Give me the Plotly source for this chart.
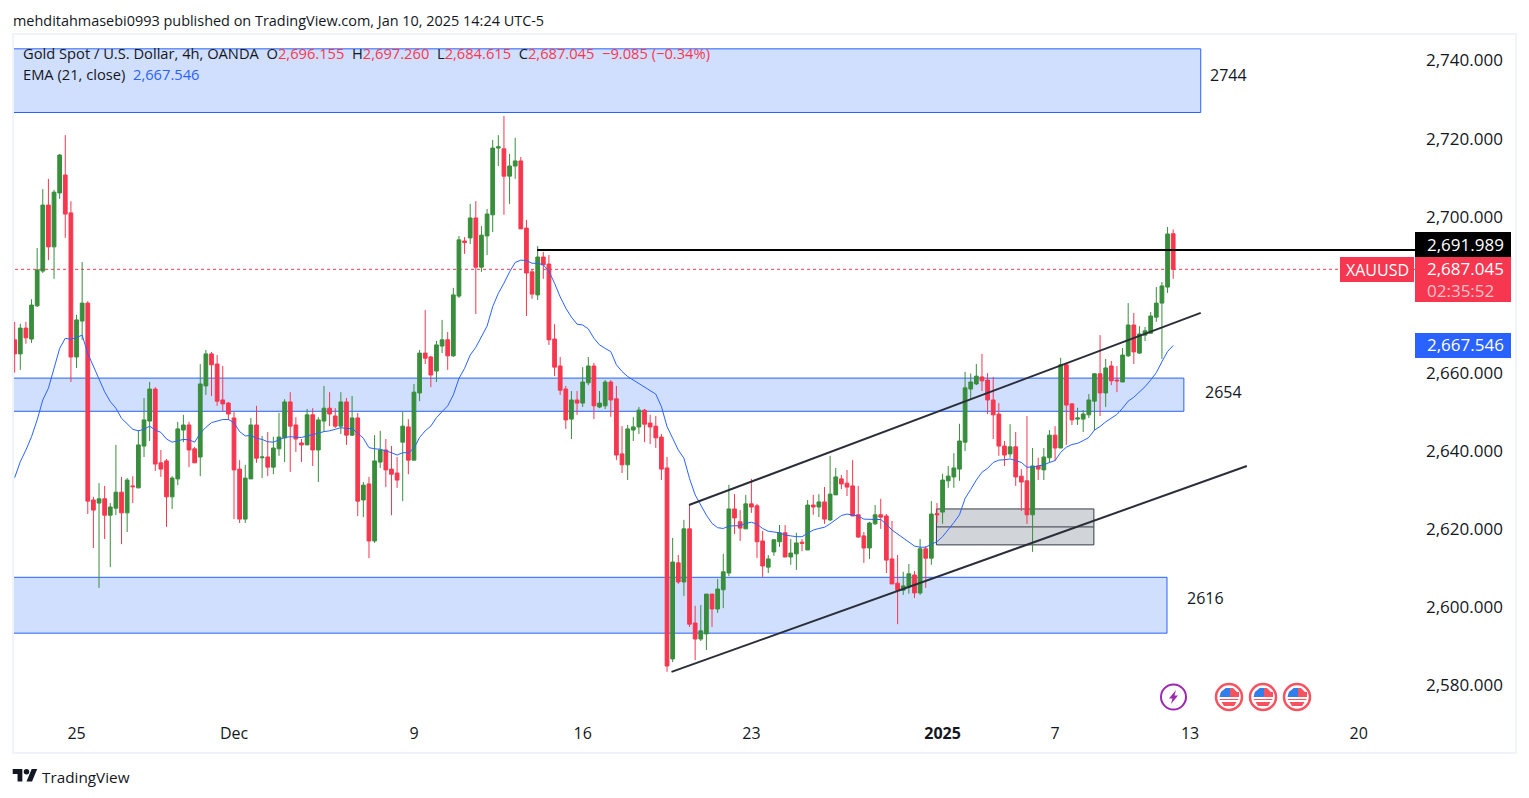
import plotly.graph_objects as go

W, H = 1529, 798
FONT = "Open Sans"
RED, GREEN, BLUE, INK = "#f7374f", "#388e3c", "#2962ff", "#131722"

opens = [2669.0,2665.4,2672.0,2669.2,2677.7,2686.6,2703.5,2692.8,2706.6,2711.2,2701.5,2664.6,2673.8,2678.4,2628.0,2627.2,2628.3,2624.1,2625.9,2630.0,2624.7,2631.6,2631.1,2641.8,2648.2,2656.4,2637.5,2638.0,2628.8,2633.4,2645.9,2647.2,2641.1,2639.0,2657.2,2665.4,2662.8,2653.6,2652.8,2649.0,2635.9,2623.1,2633.4,2647.2,
 2638.8,2639.0,2636.4,2641.1,2643.9,2653.1,2647.2,2642.6,2642.1,2649.8,2640.8,2648.2,2651.5,2649.5,2646.9,2653.1,2644.6,2649.0,2628.0,2632.1,2617.5,2637.7,2640.8,2635.9,2634.9,2642.8,2646.7,2638.2,2655.4,2665.6,2664.6,2661.0,2667.4,2669.0,2664.9,2680.2,2694.3,2695.1,2700.2,2687.6,2695.6,2701.0,2718.1,2717.9,2710.9,2713.5,2714.8,2697.6,2686.4,2680.5,2690.2,
 2688.4,2669.2,2662.3,2656.4,2648.7,2653.6,2652.8,2658.0,2662.3,2651.8,2652.1,2658.2,2653.9,2639.8,2637.0,2645.9,2646.7,2651.0,2647.7,2646.9,2644.1,2636.2,2587.3,2611.9,2607.0,2620.6,2596.5,2592.4,2593.7,2603.9,2600.1,2605.0,
 2609.3,2625.7,2622.4,2620.6,2627.0,2626.5,2617.5,2610.8,2614.7,2617.3,2619.6,2613.4,2614.2,2617.2,2615.2,2626.7,2626.2,2627.5,2622.9,2629.3,2633.4,2632.3,2631.6,2624.2,2618.8,2615.7,2621.9,2624.2,2623.9,2612.9,2606.7,2604.9,2605.7,2608.8,2604.2,2615.5,2613.1,2624.5,2624.9,2632.9,2633.9,2635.9,
 2642.8,2656.4,2657.7,2659.5,2658.7,2653.6,2650.0,2641.8,2639.8,2641.6,2634.1,2632.9,2624.2,2636.7,2635.7,2638.8,2644.6,2641.3,2662.6,2652.6,2648.7,2648.7,2649.8,2653.3,2660.3,2655.4,2662.3,2658.7,2658.2,2664.9,2672.8,2665.6,2670.2,2670.7,2674.8,2678.4,2682.5,2696.155]
highs = [2673.6,2673.1,2673.6,2679.4,2692.5,2707.6,2710.2,2707.4,2716.6,2721.4,2704.5,2675.4,2688.9,2678.9,2628.8,2632.3,2631.6,2627.2,2642.1,2633.9,2633.6,2634.1,2645.9,2654.1,2658.2,2656.9,2640.8,2638.5,2634.1,2648.0,2649.8,2648.0,2641.6,2662.8,2666.4,2665.9,2665.1,2662.3,2653.1,2650.5,2638.2,2637.0,2649.0,2652.1,
 2644.4,2645.4,2644.2,2650.3,2653.8,2655.6,2649.2,2643.6,2651.3,2651.5,2649.2,2657.2,2655.6,2651.5,2655.6,2654.1,2654.6,2650.3,2632.6,2633.9,2644.6,2645.7,2643.6,2641.8,2639.0,2650.6,2648.7,2657.7,2666.4,2676.6,2664.9,2668.7,2674.1,2671.0,2682.3,2695.6,2695.3,2703.8,2704.5,2698.1,2702.5,2720.2,2721.4,2726.3,2716.6,2720.7,2715.8,2699.7,2687.1,2693.0,2691.5,
 2690.7,2673.0,2664.6,2657.2,2655.9,2655.9,2662.0,2664.6,2663.1,2655.9,2658.7,2658.7,2657.2,2646.9,2647.2,2649.2,2651.8,2651.3,2649.8,2649.5,2644.9,2639.0,2618.3,2613.9,2622.9,2626.7,2600.9,2601.1,2603.9,2603.9,2607.8,2614.2,
 2631.9,2629.5,2625.4,2629.3,2633.4,2627.0,2620.1,2613.9,2618.0,2621.6,2621.6,2618.0,2619.6,2618.0,2628.0,2629.3,2629.5,2631.3,2639.3,2636.2,2634.4,2635.7,2638.2,2631.6,2619.8,2622.4,2626.7,2628.3,2624.4,2622.6,2613.9,2609.6,2611.6,2609.8,2618.0,2616.2,2627.7,2627.2,2634.7,2636.7,2640.0,2647.5,
 2660.8,2660.4,2662.8,2665.4,2660.5,2659.5,2652.8,2643.1,2647.4,2645.4,2635.9,2649.5,2641.3,2638.8,2641.3,2645.9,2646.9,2664.4,2663.1,2652.8,2651.6,2651.0,2655.1,2660.5,2670.2,2664.1,2663.6,2662.3,2666.9,2678.4,2675.9,2672.5,2672.3,2676.1,2682.5,2683.8,2697.9,2697.26]
lows = [2660.6,2661.3,2668.0,2668.2,2677.4,2686.1,2689.4,2684.6,2705.1,2695.1,2658.2,2661.8,2669.0,2624.4,2615.7,2605.5,2618.0,2610.8,2624.1,2616.7,2619.8,2627.2,2631.0,2639.0,2643.1,2635.4,2633.9,2621.1,2625.7,2631.8,2642.8,2636.4,2637.5,2634.1,2654.9,2654.6,2652.1,2650.8,2648.5,2623.1,2622.1,2622.1,2633.4,2637.5,
 2633.6,2634.1,2634.6,2639.3,2637.7,2635.2,2640.3,2637.7,2642.1,2636.7,2632.6,2645.4,2646.9,2646.4,2644.9,2642.1,2644.4,2623.9,2623.6,2613.1,2617.0,2636.2,2631.3,2624.1,2631.1,2627.7,2634.6,2638.2,2653.3,2662.8,2656.9,2658.2,2665.6,2661.3,2664.6,2679.7,2691.0,2693.5,2675.6,2686.4,2690.7,2696.6,2713.5,2701.0,2703.8,2710.2,2697.4,2675.1,2679.5,2679.2,2684.6,
 2667.7,2659.7,2654.9,2646.2,2643.6,2649.8,2651.8,2657.4,2648.7,2651.5,2651.3,2649.3,2638.2,2634.9,2633.1,2643.1,2644.9,2642.8,2642.3,2641.3,2633.1,2584.0,2586.5,2606.5,2603.4,2595.5,2587.0,2591.9,2589.6,2595.5,2599.1,2600.3,
 2608.5,2619.3,2617.5,2620.6,2624.7,2613.1,2608.3,2609.3,2613.7,2616.0,2613.4,2611.4,2610.1,2614.9,2615.2,2624.2,2623.6,2621.9,2622.6,2629.3,2630.8,2629.0,2623.9,2618.3,2611.9,2612.9,2621.6,2620.6,2609.3,2606.5,2596.2,2603.7,2604.0,2602.9,2603.7,2605.5,2611.4,2622.1,2621.9,2631.1,2631.1,2632.9,
 2640.5,2653.9,2657.4,2655.9,2650.0,2643.6,2639.3,2636.7,2638.8,2631.6,2625.2,2621.9,2614.7,2633.1,2633.1,2637.5,2638.0,2641.3,2642.1,2647.2,2647.2,2645.4,2649.0,2645.9,2649.5,2651.8,2657.4,2655.6,2658.2,2664.6,2662.8,2665.4,2668.7,2670.5,2673.6,2664.1,2681.0,2684.615]
closes = [2665.4,2672.0,2669.5,2677.9,2686.9,2703.5,2692.8,2706.8,2716.3,2701.2,2664.6,2674.1,2678.4,2627.7,2625.4,2628.3,2624.1,2626.2,2630.0,2624.7,2633.1,2631.4,2642.1,2648.5,2656.4,2637.2,2635.9,2628.8,2633.6,2646.2,2647.2,2640.8,2637.5,2657.7,2665.4,2662.6,2653.3,2652.6,2650.0,2635.7,2623.1,2633.6,2647.2,2638.7,
 2639.0,2636.4,2641.3,2644.1,2653.1,2646.9,2643.6,2642.1,2649.8,2640.8,2648.5,2651.5,2650.0,2646.9,2653.1,2644.6,2649.0,2627.7,2631.8,2617.5,2638.0,2640.8,2635.7,2634.6,2633.1,2646.9,2638.2,2655.6,2665.6,2664.3,2660.0,2667.7,2669.0,2664.9,2680.5,2694.6,2693.9,2700.2,2687.6,2695.8,2701.2,2718.1,2718.4,2710.9,2713.5,2714.8,2697.4,2686.1,2680.7,2690.2,2688.2,
 2669.0,2662.0,2656.1,2648.5,2653.6,2652.8,2658.2,2662.3,2652.1,2652.8,2658.2,2653.6,2639.5,2637.0,2646.2,2646.7,2651.0,2647.4,2646.7,2643.9,2635.9,2585.5,2612.1,2607.0,2620.6,2596.2,2592.4,2594.5,2603.9,2600.1,2605.2,2609.6,
 2625.7,2623.4,2620.8,2627.0,2626.2,2617.3,2611.1,2612.9,2617.8,2619.6,2613.4,2614.4,2617.0,2616.9,2626.7,2626.2,2627.5,2623.1,2629.5,2633.9,2632.1,2631.3,2623.9,2618.5,2615.7,2622.1,2624.2,2623.6,2612.6,2606.5,2604.9,2606.0,2609.1,2604.2,2615.5,2613.1,2624.4,2624.2,2633.1,2634.1,2636.2,2643.1,
 2656.7,2658.2,2659.7,2658.5,2653.6,2649.8,2641.8,2639.5,2641.6,2633.9,2632.6,2624.2,2636.7,2635.9,2639.0,2644.6,2641.3,2662.6,2652.3,2648.5,2649.0,2650.0,2653.6,2660.3,2655.4,2661.8,2658.5,2658.5,2665.1,2672.8,2665.9,2670.5,2671.3,2675.1,2678.4,2682.8,2696.1,2687.045]
ema21 = [2633.7,2637.8,2640.8,2644.2,2648.5,2653.6,2656.6,2661.7,2666.8,2669.4,2669.1,2669.6,2670.2,2665.5,2662.1,2658.7,2655.7,2653.2,2651.5,2648.9,2647.6,2646.1,2645.7,2646.1,2646.9,2645.9,2645.3,2643.6,2642.8,2643.2,2643.5,2643.4,2642.8,2645.1,2646.6,2647.8,2648.3,2648.6,2648.6,2647.8,2645.5,2644.4,2644.5,2643.8,
 2643.5,2642.9,2642.8,2643.4,2644.0,2644.2,2644.1,2644.0,2644.4,2644.7,2645.1,2645.5,2645.7,2646.1,2646.5,2646.3,2646.3,2645.1,2643.8,2641.4,2641.1,2641.0,2640.6,2640.1,2639.5,2640.1,2640.1,2641.2,2644.0,2645.7,2646.9,2649.1,2650.6,2652.1,2654.9,2659.1,2661.7,2665.1,2667.1,2669.8,2672.5,2677.5,2680.9,2683.5,2686.4,
 2688.8,2689.4,2689.3,2688.6,2688.6,2688.2,2686.5,2683.5,2680.0,2677.1,2674.8,2673.0,2672.8,2671.8,2669.4,2667.7,2666.8,2666.0,2662.6,2660.9,2659.6,2658.7,2657.9,2657.0,2656.0,2655.1,2651.9,2646.8,2643.8,2640.8,2638.7,2633.5,2629.3,2626.7,2624.1,2622.0,2620.9,2620.7,
 2621.3,2621.4,2621.4,2622.0,2622.3,2621.8,2620.7,2620.0,2619.8,2619.6,2619.0,2618.8,2618.6,2618.6,2619.5,2620.3,2620.7,2621.0,2621.9,2622.9,2624.0,2624.4,2624.2,2623.9,2623.1,2623.0,2623.0,2623.0,2621.8,2620.3,2619.3,2618.2,2617.3,2616.2,2615.9,2615.9,2616.7,2617.3,2618.6,2620.3,2622.2,2624.2,
 2628.4,2630.7,2633.1,2635.1,2636.1,2637.6,2638.2,2638.3,2638.5,2638.1,2637.6,2636.4,2636.4,2636.7,2637.0,2637.6,2638.1,2640.2,2641.5,2642.2,2642.5,2643.2,2644.0,2645.9,2646.8,2648.0,2648.9,2649.9,2651.5,2653.3,2654.3,2655.6,2657.0,2658.7,2660.6,2663.4,2666.0,2667.546]
bars = list(range(len(closes)))

time_ticks = [11, 39, 71, 101, 131, 165, 185, 209, 239]
time_labels = ["25", "Dec", "9", "16", "23", "<b>2025</b>", "7", "13", "20"]
price_ticks = [2580, 2600, 2620, 2640, 2660, 2700, 2720, 2740]

zone_bars = [(-5, 210.9), (-5, 207.9), (-5, 204.9)]
zone_prices = [(2743.5, 2727.2), (2659.2, 2650.7), (2608.2, 2593.9)]
grey_bars = (163.9, 191.9)
grey_prices = (2625.7, 2621.1, 2616.5)
channel_upper = [(119.9, 2626.7), (210.9, 2675.9)]
channel_lower = [(116.8, 2584.0), (219.1, 2636.7)]
resistance = (92.9, 249.0, 2691.989)
last_close = 2687.045


def px(x):
    return x / W


def py(y):
    return 1 - y / H


def rect(x0, y0, x1, y1, fill, line=None, lw=0):
    return dict(type="rect", xref="paper", yref="paper", x0=px(x0), x1=px(x1), y0=py(y0), y1=py(y1),
                fillcolor=fill, line=dict(color=line or fill, width=lw), layer="above")


def circle(cx, cy, r, fill, line, lw):
    return dict(type="circle", xref="paper", yref="paper", x0=px(cx - r), x1=px(cx + r), y0=py(cy - r), y1=py(cy + r),
                fillcolor=fill, line=dict(color=line, width=lw), layer="above")


def poly(points, fill):
    d = "M" + "L".join(f"{px(a):.5f},{py(b):.5f}" for a, b in points) + "Z"
    return dict(type="path", xref="paper", yref="paper", path=d, fillcolor=fill, line=dict(width=0), layer="above")


def note(x, y, text, size=14, color=INK, anchor="left"):
    return dict(xref="paper", yref="paper", x=px(x), y=py(y), text=text, showarrow=False, xanchor=anchor,
                yanchor="middle", align="left", font=dict(family=FONT, size=size, color=color))


shapes = []
for (b0, b1), (p0, p1) in zip(zone_bars, zone_prices):
    shapes.append(dict(type="rect", xref="x", yref="y", x0=b0, x1=b1, y0=p0, y1=p1, layer="below",
                       fillcolor="#d1dfff", line=dict(color=BLUE, width=1)))
shapes.append(dict(type="rect", xref="x", yref="y", x0=grey_bars[0], x1=grey_bars[1], y0=grey_prices[0], y1=grey_prices[2],
                   layer="below", fillcolor="#d1d4d8", line=dict(color="#363a45", width=1)))
shapes.append(dict(type="line", xref="x", yref="y", x0=grey_bars[0], x1=grey_bars[1], y0=grey_prices[1], y1=grey_prices[1],
                   layer="below", line=dict(color="#363a45", width=1)))
for seg in (channel_upper, channel_lower):
    shapes.append(dict(type="line", xref="x", yref="y", x0=seg[0][0], y0=seg[0][1], x1=seg[1][0], y1=seg[1][1],
                       line=dict(color="#2a2e39", width=2), layer="above"))
shapes.append(dict(type="line", xref="x", yref="y", x0=resistance[0], x1=resistance[1], y0=resistance[2], y1=resistance[2],
                   line=dict(color="#000000", width=2), layer="above"))
shapes.append(dict(type="line", xref="x", yref="y", x0=-1, x1=resistance[1], y0=last_close, y1=last_close,
                   line=dict(color=RED, width=1, dash="dot"), layer="below"))

# price axis flags
shapes += [
    rect(1415, 232, 1511, 257, "#000000"),
    rect(1340, 257, 1414, 282, RED),
    rect(1415, 257, 1511, 302, RED),
    rect(1415, 333, 1511, 358, BLUE),
]
# frame
shapes.append(dict(type="rect", xref="paper", yref="paper", x0=px(13), x1=px(1516), y0=py(753), y1=py(34),
                   line=dict(color="#f0f3fa", width=2), fillcolor="rgba(0,0,0,0)", layer="above"))

# event icons
shapes.append(circle(1173.5, 697, 12.5, "#ffffff", "#9c27b0", 2))
shapes.append(poly([(1176, 690), (1169, 698.5), (1172.5, 698.5), (1171, 704), (1178, 695.5), (1174.5, 695.5)], "#9c27b0"))
for cx in (1229, 1263, 1297):
    shapes.append(circle(cx, 697, 13, "#ffffff", "#f7525f", 2.5))
    shapes.append(poly([(cx - 8, 692), (cx - 3, 688), (cx + 4, 688), (cx + 8, 692), (cx + 10, 692), (cx + 10, 697), (cx - 9, 697)], "#f7525f"))
    shapes.append(poly([(cx - 7.5, 702), (cx + 7.5, 702), (cx + 5, 706), (cx - 5, 706)], "#f7525f"))
    shapes.append(poly([(cx - 9.5, 699), (cx + 9.5, 699), (cx + 9, 700), (cx - 9, 700)], "#f7525f"))
    shapes.append(poly([(cx - 9.5, 697), (cx - 8, 692), (cx - 3, 688), (cx + 1, 688), (cx + 1, 697)], "#2f80ed"))

# TradingView logo
sc = 0.69
lx, ly = 12.7, 766.3
shapes.append(poly([(lx, ly + 4 * sc), (lx + 14 * sc, ly + 4 * sc), (lx + 14 * sc, ly + 22 * sc), (lx + 7 * sc, ly + 22 * sc),
                    (lx + 7 * sc, ly + 11 * sc), (lx, ly + 11 * sc)], INK))
shapes.append(poly([(lx + 27.5 * sc, ly + 4 * sc), (lx + 35.5 * sc, ly + 4 * sc), (lx + 28 * sc, ly + 22 * sc), (lx + 20 * sc, ly + 22 * sc)], INK))
shapes.append(circle(lx + 20 * sc, ly + 8 * sc, 4 * sc, INK, INK, 0))

annotations = [
    note(11, 20, "mehditahmasebi0993 published on TradingView.com, Jan 10, 2025 14:24 UTC-5", 14.45),
    note(21, 53, f'Gold Spot / U.S. Dollar, 4h, OANDA  O<span style="color:{RED}">2,696.155</span>  H<span style="color:{RED}">2,697.260</span>'
                 f'  L<span style="color:{RED}">2,684.615</span>  C<span style="color:{RED}">2,687.045  \u22129.085 (\u22120.34%)</span>', 14.7),
    note(21, 74, f'EMA (21, close)  <span style="color:{BLUE}">2,667.546</span>', 14.7),
    note(1228.5, 75, "2744", 16, anchor="center"),
    note(1223, 392, "2654", 16, anchor="center"),
    note(1205, 598, "2616", 16, anchor="center"),
    note(1425, 244, "2,691.989", 17, "#ffffff"),
    note(1377, 269.5, "XAUUSD", 16, "#ffffff", "center"),
    note(1425, 279.5, '2,687.045<br><span style="color:#fdc0c8">02:35:52</span>', 17, "#ffffff"),
    note(1425, 345, "2,667.546", 17, "#ffffff"),
    note(40, 776.5, "TradingView", 15.3),
]

fig = go.Figure()
fig.add_trace(go.Candlestick(
    x=bars, open=opens, high=highs, low=lows, close=closes, whiskerwidth=0,
    increasing=dict(line=dict(color=GREEN, width=1), fillcolor=GREEN),
    decreasing=dict(line=dict(color=RED, width=1), fillcolor=RED),
    showlegend=False, hoverinfo="skip"))
fig.add_trace(go.Scatter(x=bars, y=ema21, mode="lines", line=dict(color=BLUE, width=1), showlegend=False, hoverinfo="skip"))

fig.update_layout(
    width=W, height=H, margin=dict(l=0, r=0, t=0, b=0, pad=0, autoexpand=False),
    paper_bgcolor="#ffffff", plot_bgcolor="#ffffff", boxgap=0.05,
    font=dict(family=FONT, color=INK),
    shapes=shapes, annotations=annotations, hovermode=False,
    xaxis=dict(domain=[px(13), px(1415)], range=[-0.297, 249.0], showgrid=False, zeroline=False, showline=False,
               rangeslider=dict(visible=False), tickmode="array", tickvals=time_ticks, ticktext=time_labels,
               ticks="", ticklabelstandoff=4, tickfont=dict(family=FONT, size=16, color=INK), fixedrange=True),
    yaxis=dict(domain=[py(718), py(35)], range=[2572.18, 2747.04], side="right", showgrid=False, zeroline=False,
               showline=False, tickmode="array", tickvals=price_ticks, tickformat=",.3f", ticks="",
               ticklabelstandoff=10, ticklabelshift=-2, tickfont=dict(family=FONT, size=17, color=INK), fixedrange=True),
)
fig.write_html("out.html", config=dict(displayModeBar=False),
               post_script="document.body.style.margin='0';document.body.style.overflow='hidden';")
